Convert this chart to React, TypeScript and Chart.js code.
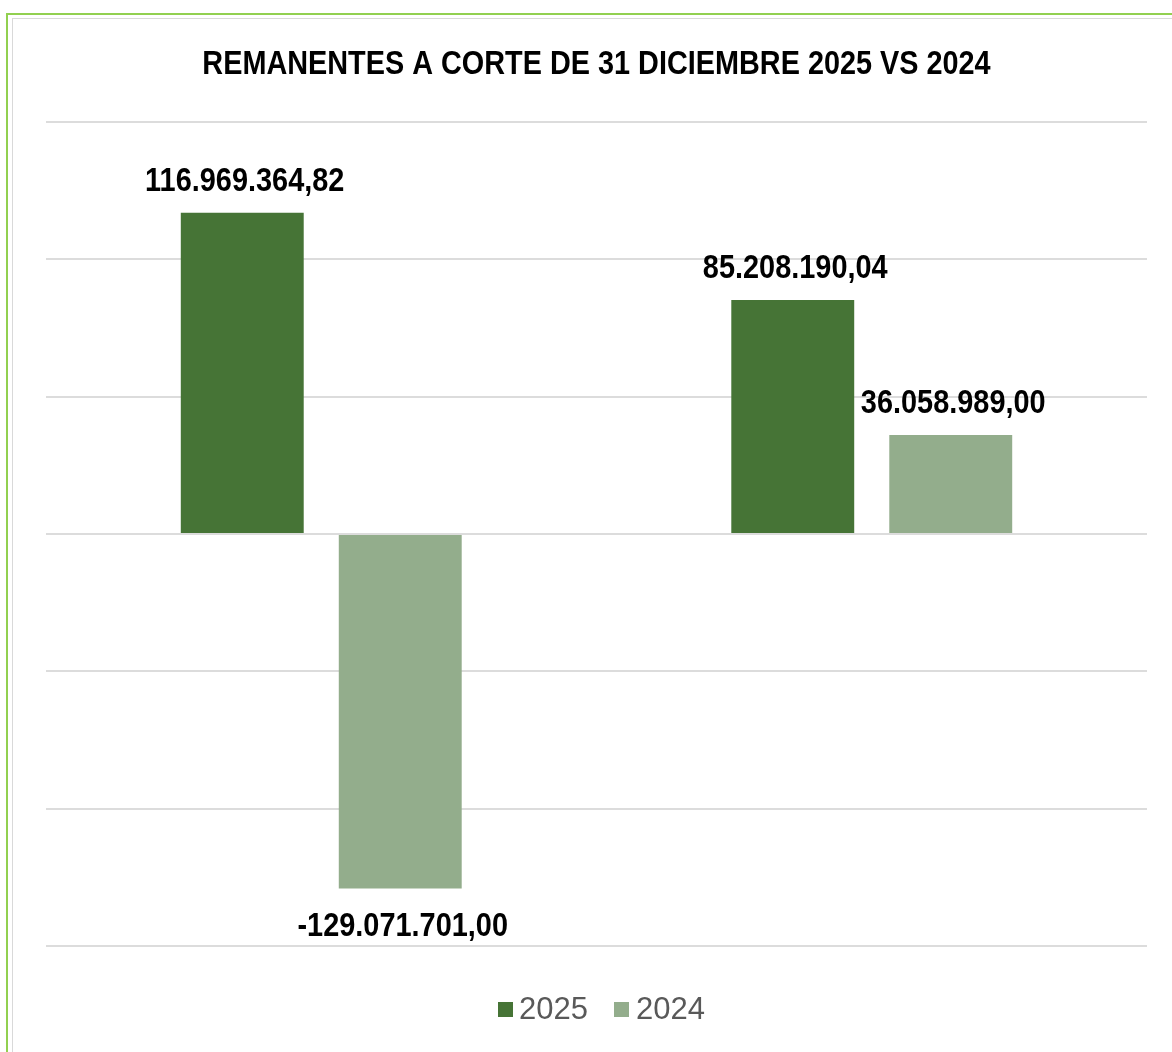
import React, { useEffect, useRef } from "react";
import { Chart, registerables } from "chart.js";

Chart.register(...registerables);

const categories = ["Remanentes A", "Remanentes B"];
const seriesNames = ["2025", "2024"];
const values2025 = [116969364.82, 85208190.04];
const values2024 = [-129071701.0, 36058989.0];
const seriesColors = ["#467436", "#93AD8C"];
const titleText = "REMANENTES A CORTE DE 31 DICIEMBRE 2025 VS 2024";
const yMin = -150000000;
const yMax = 150000000;
const yStep = 50000000;

const FONT = "'Liberation Sans', Arial, sans-serif";

function formatEs(v: number): string {
  const neg = v < 0;
  const abs = Math.abs(v);
  const fixed = abs.toFixed(2);
  const [intPart, dec] = fixed.split(".");
  const withDots = intPart.replace(/\B(?=(\d{3})+(?!\d))/g, ".");
  return (neg ? "-" : "") + withDots + "," + dec;
}

function drawNarrow(ctx: CanvasRenderingContext2D, text: string, cx: number, baseline: number, sx: number) {
  ctx.save();
  ctx.translate(cx, baseline);
  ctx.scale(sx, 1);
  ctx.textAlign = "center";
  ctx.textBaseline = "alphabetic";
  ctx.fillText(text, 0, 0);
  ctx.restore();
}

const titlePlugin = {
  id: "narrowTitle",
  afterDraw(chart: any) {
    const ctx = chart.ctx;
    const area = chart.chartArea;
    ctx.save();
    ctx.font = `bold 34px ${FONT}`;
    ctx.fillStyle = "#000000";
    drawNarrow(ctx, titleText, (area.left + area.right) / 2, 74, 0.848);
    ctx.restore();
  },
};

const dataLabelPlugin = {
  id: "dataLabels",
  afterDatasetsDraw(chart: any) {
    const ctx = chart.ctx;
    ctx.save();
    ctx.font = `bold 34px ${FONT}`;
    ctx.fillStyle = "#000000";
    chart.data.datasets.forEach((ds: any, di: number) => {
      const meta = chart.getDatasetMeta(di);
      meta.data.forEach((bar: any, i: number) => {
        const v = ds.data[i] as number;
        const text = formatEs(v);
        const baseline = v >= 0 ? bar.y - 22 : bar.y + 47;
        drawNarrow(ctx, text, bar.x + 2.5, baseline, 0.85);
      });
    });
    ctx.restore();
  },
};

export default function App() {
  const canvasRef = useRef<HTMLCanvasElement | null>(null);

  useEffect(() => {
    if (!canvasRef.current) return;
    const chart = new Chart(canvasRef.current, {
      type: "bar",
      data: {
        labels: categories,
        datasets: [
          {
            label: seriesNames[0],
            data: values2025,
            backgroundColor: seriesColors[0],
            barPercentage: 0.778,
            categoryPercentage: 0.574,
          },
          {
            label: seriesNames[1],
            data: values2024,
            backgroundColor: seriesColors[1],
            barPercentage: 0.778,
            categoryPercentage: 0.574,
          },
        ],
      },
      options: {
        animation: false,
        responsive: true,
        maintainAspectRatio: false,
        layout: { padding: { left: 46, right: 25, top: 122, bottom: 106 } },
        plugins: {
          legend: { display: false },
          tooltip: { enabled: false },
          title: { display: false },
        },
        scales: {
          x: { display: false },
          y: {
            min: yMin,
            max: yMax,
            ticks: { display: false, stepSize: yStep },
            border: { display: false },
            grid: { color: "#dcdcdc", lineWidth: 2, drawTicks: false },
            afterFit: (scale: any) => {
              scale.width = 0;
            },
          },
        },
      },
      plugins: [dataLabelPlugin, titlePlugin],
    });
    return () => chart.destroy();
  }, []);

  const legendText: React.CSSProperties = {
    position: "absolute",
    top: 993,
    fontFamily: FONT,
    fontSize: 31,
    lineHeight: "31px",
    color: "#595959",
  };

  return (
    <div style={{ position: "absolute", left: 0, top: 0, width: 1172, height: 1052, background: "#ffffff", overflow: "hidden" }}>
      <div style={{ position: "absolute", left: 6, top: 13, width: 1166, height: 2, background: "#92D050" }} />
      <div style={{ position: "absolute", left: 6, top: 13, width: 2, height: 1039, background: "#92D050" }} />
      <div style={{ position: "absolute", left: 12, top: 18, width: 1160, height: 1, background: "#d9d9d9" }} />
      <div style={{ position: "absolute", left: 12, top: 18, width: 1, height: 1034, background: "#d9d9d9" }} />
      <div style={{ position: "absolute", left: 0, top: 0, width: 1172, height: 1052 }}>
        <canvas ref={canvasRef} />
      </div>
      <div style={{ position: "absolute", left: 498, top: 1002, width: 15, height: 15, background: seriesColors[0] }} />
      <div style={{ ...legendText, left: 519 }}>{seriesNames[0]}</div>
      <div style={{ position: "absolute", left: 614, top: 1002, width: 15, height: 15, background: seriesColors[1] }} />
      <div style={{ ...legendText, left: 636 }}>{seriesNames[1]}</div>
    </div>
  );
}
